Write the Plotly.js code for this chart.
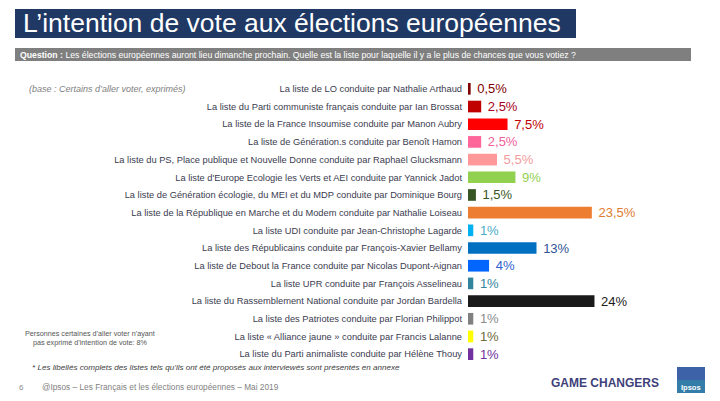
<!DOCTYPE html>
<html>
<head>
<meta charset="utf-8">
<script src="https://cdn.plot.ly/plotly-3.0.1.min.js"></script>
<style>html,body{margin:0;padding:0;background:#fff;}#chart{width:720px;height:401px;}</style>
</head>
<body>
<div id="chart"></div>
<script>
// ---- DATA ----
const categories = [
  "La liste de LO conduite par Nathalie Arthaud",
  "La liste du Parti communiste français conduite par Ian Brossat",
  "La liste de la France Insoumise conduite par Manon Aubry",
  "La liste de Génération.s conduite par Benoît Hamon",
  "La liste du PS, Place publique et Nouvelle Donne conduite par Raphaël Glucksmann",
  "La liste d'Europe Ecologie les Verts et AEI conduite par Yannick Jadot",
  "La liste de Génération écologie, du MEI et du MDP conduite par Dominique Bourg",
  "La liste de la République en Marche et du Modem conduite par Nathalie Loiseau",
  "La liste UDI conduite par Jean-Christophe Lagarde",
  "La liste des Républicains conduite par François-Xavier Bellamy",
  "La liste de Debout la France conduite par Nicolas Dupont-Aignan",
  "La liste UPR conduite par François Asselineau",
  "La liste du Rassemblement National conduite par Jordan Bardella",
  "La liste des Patriotes conduite par Florian Philippot",
  "La liste « Alliance jaune » conduite par Francis Lalanne",
  "La liste du Parti animaliste conduite par Hélène Thouy"
];
const values = [0.5, 2.5, 7.5, 2.5, 5.5, 9, 1.5, 23.5, 1, 13, 4, 1, 24, 1, 1, 1];
const barColors = ["#7F0000","#C00000","#FF0000","#FF6699","#FF9999","#92D050","#375623","#ED7D31","#00B0F0","#0070C0","#0066FF","#31849B","#1A1A1A","#808080","#FFFF00","#7030A0"];
const labelColors = ["#7F0000","#A50021","#C00000","#F0609A","#F29B9B","#92D050","#375623","#E07B30","#4BACC6","#2F5597","#2F5FD0","#31849B","#1A1A1A","#8C8C8C","#6B6B3A","#7030A0"];

// ---- LAYOUT GEOMETRY ----
const W = 720, H = 401;
const L = 468, T = 80, R = 20, B = 38;
const PW = W - L - R, PH = H - T - B;
const px = x => (x - L) / PW;
const py = y => 1 - (y - T) / PH;

const trace = {
  type: "bar",
  orientation: "h",
  y: categories,
  x: values,
  width: 0.66,
  marker: {color: barColors},
  texttemplate: "\u00a0%{x}%",
  textposition: "outside",
  constraintext: "none",
  cliponaxis: false,
  textfont: {family: "Liberation Sans, Arial, sans-serif", size: 13, color: labelColors},
  hoverinfo: "skip"
};

const F = "Liberation Sans, Arial, sans-serif";
const layout = {
  width: W, height: H,
  margin: {l: L, r: R, t: T, b: B, pad: 0},
  paper_bgcolor: "#fff", plot_bgcolor: "#fff",
  separators: ", ",
  showlegend: false,
  xaxis: {range: [0, PW / 5.27], visible: false, fixedrange: true},
  yaxis: {
    type: "category",
    autorange: false,
    range: [categories.length - 0.5, -0.5],
    showgrid: false, zeroline: false, showline: false,
    ticks: "", ticklabelstandoff: 5,
    tickfont: {family: F, size: 9.3, color: "#3B3B4F"}
  },
  shapes: [
    {type: "rect", xref: "paper", yref: "paper", x0: px(15), x1: px(576), y0: py(9), y1: py(38), fillcolor: "#1F3864", line: {width: 0}, layer: "below"},
    {type: "rect", xref: "paper", yref: "paper", x0: px(15), x1: px(691), y0: py(48), y1: py(61), fillcolor: "#7F7F7F", line: {width: 0}, layer: "below"},
    {type: "rect", xref: "paper", yref: "paper", x0: px(677), x1: px(705), y0: py(367), y1: py(393), fillcolor: "#3D62A8", line: {width: 0}, layer: "below"},
    {type: "rect", xref: "paper", yref: "paper", x0: px(677), x1: px(705), y0: py(380), y1: py(393), fillcolor: "#2E8FA8", line: {width: 0}, layer: "below", opacity: 0.6}
  ],
  annotations: [
    {xref: "paper", yref: "paper", x: px(21), y: py(23.5), xanchor: "left", yanchor: "middle", showarrow: false,
     text: "L’intention de vote aux élections européennes", font: {family: F, size: 26.5, color: "#FFFFFF"}},
    {xref: "paper", yref: "paper", x: px(18), y: py(54.5), xanchor: "left", yanchor: "middle", showarrow: false,
     text: "<b>Question :</b> Les élections européennes auront lieu dimanche prochain. Quelle est la liste pour laquelle il y a le plus de chances que vous votiez ?",
     font: {family: F, size: 8.7, color: "#FFFFFF"}},
    {xref: "paper", yref: "paper", x: px(27), y: py(89), xanchor: "left", yanchor: "middle", showarrow: false,
     text: "<i>(base : Certains d’aller voter, exprimés)</i>", font: {family: F, size: 9, color: "#808080"}},
    {xref: "paper", yref: "paper", x: px(90), y: py(338), xanchor: "center", yanchor: "middle", showarrow: false, align: "center",
     text: "Personnes certaines d’aller voter n’ayant<br>pas exprimé d’intention de vote: 8%", font: {family: F, size: 7.2, color: "#555555"}},
    {xref: "paper", yref: "paper", x: px(30), y: py(367), xanchor: "left", yanchor: "middle", showarrow: false,
     text: "<i>* Les libellés complets des listes tels qu’ils ont été proposés aux interviewés sont présentés en annexe</i>", font: {family: F, size: 8.1, color: "#404040"}},
    {xref: "paper", yref: "paper", x: px(17), y: py(387), xanchor: "left", yanchor: "middle", showarrow: false,
     text: "6", font: {family: F, size: 8, color: "#8C8C8C"}},
    {xref: "paper", yref: "paper", x: px(40), y: py(387), xanchor: "left", yanchor: "middle", showarrow: false,
     text: "@Ipsos – Les Français et les élections européennes – Mai 2019", font: {family: F, size: 8.3, color: "#7F7F7F"}},
    {xref: "paper", yref: "paper", x: px(549), y: py(383), xanchor: "left", yanchor: "middle", showarrow: false,
     text: "<b>GAME CHANGERS</b>", font: {family: F, size: 12, color: "#3F3F7A"}},
    {xref: "paper", yref: "paper", x: px(691), y: py(387), xanchor: "center", yanchor: "middle", showarrow: false,
     text: "<b>Ipsos</b>", font: {family: F, size: 7.5, color: "#FFFFFF"}}
  ]
};

Plotly.newPlot("chart", [trace], layout, {staticPlot: true, displayModeBar: false});
</script>
</body>
</html>
